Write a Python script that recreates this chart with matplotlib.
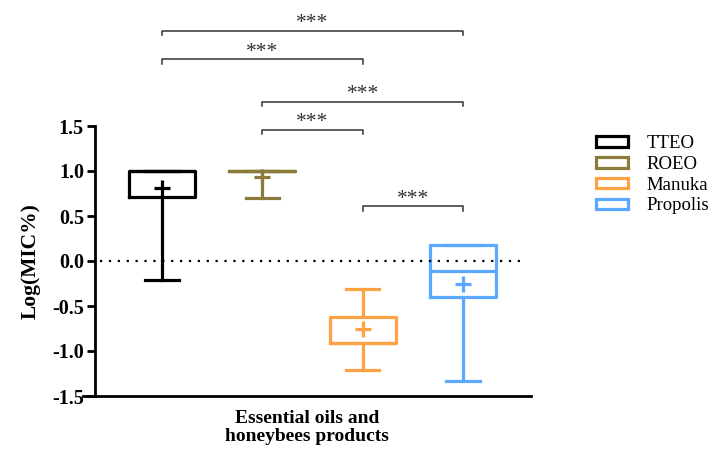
import matplotlib.pyplot as plt
from matplotlib.patches import Patch

plt.rcParams['font.family'] = ['Liberation Serif', 'DejaVu Serif']

groups = ["TTEO", "ROEO", "Manuka", "Propolis"]
colors = ["#000000", "#8a7b3c", "#ffa244", "#5aa8ff"]
whislo = [-0.21, 0.70, -1.21, -1.33]
q1 = [0.71, 1.00, -0.91, -0.40]
med = [1.00, 1.00, -0.91, -0.11]
q3 = [1.00, 1.00, -0.62, 0.18]
whishi = [1.00, 1.00, -0.31, 0.18]
means = [0.81, 0.93, -0.75, -0.25]

# significance pairs (group index a, group index b, bracket height)
pairs = [(0, 3, 2.56), (0, 2, 2.24), (1, 3, 1.77), (1, 2, 1.46), (2, 3, 0.61)]
stars = ["***", "***", "***", "***", "***"]

fig = plt.figure(figsize=(7.17, 4.51), dpi=100)
ax = fig.add_axes([83 / 717, 55 / 451, 448 / 717, 270 / 451])

pos = [1, 2, 3, 4]
for i in range(4):
    st = dict(whislo=whislo[i], q1=q1[i], med=med[i], q3=q3[i], whishi=whishi[i],
              mean=means[i], fliers=[])
    c = colors[i]
    ax.bxp([st], positions=[pos[i]], widths=0.66, showmeans=True, showfliers=False,
           patch_artist=False,
           boxprops=dict(color=c, linewidth=2.3),
           whiskerprops=dict(color=c, linewidth=2.3),
           capprops=dict(color=c, linewidth=2.3),
           medianprops=dict(color=c, linewidth=2.3),
           meanprops=dict(marker='+', markeredgecolor=c, markersize=11, markeredgewidth=2.3),
           capwidths=0.33)

ax.plot([0.38, 4.59], [0, 0], color='black', linestyle=(0, (1, 3)), linewidth=1.6)

for (a, b, h), s in zip(pairs, stars):
    xa, xb = pos[a], pos[b]
    ax.plot([xa, xa, xb, xb], [h - 0.05, h, h, h - 0.05], color='#333333',
            linewidth=1.1, clip_on=False)
    ax.text((xa + xb) / 2, h - 0.03, s, ha='center', va='bottom', fontsize=15.5,
            color='#333333', clip_on=False)

ax.set_xlim(0.212, 4.678)
ax.set_ylim(-1.5, 1.5)
ax.set_yticks([1.5, 1.0, 0.5, 0.0, -0.5, -1.0, -1.5])
ax.set_yticklabels(["1.5", "1.0", "0.5", "0.0", "-0.5", "-1.0", "-1.5"])
ax.set_xticks([])
ax.spines['top'].set_visible(False)
ax.spines['right'].set_visible(False)
ax.spines['left'].set_position(('data', 0.332))
ax.spines['left'].set_linewidth(2)
ax.spines['bottom'].set_linewidth(2)
ax.tick_params(axis='y', direction='out', length=6, width=2, pad=2, labelsize=14.5)
for lab in ax.get_yticklabels():
    lab.set_fontweight('bold')
ax.set_ylabel("Log(MIC%)", fontweight='bold', fontsize=15.5, labelpad=8)
ax.set_xlabel("Essential oils and\nhoneybees products", fontweight='bold', fontsize=14,
              labelpad=10, linespacing=1.1)

handles = [Patch(facecolor='white', edgecolor=c, linewidth=2.3) for c in colors]
fig.legend(handles, groups, loc='upper left', bbox_to_anchor=(585 / 717, 1 - 124 / 451),
           frameon=False, fontsize=13.5, handlelength=1.7, handleheight=0.5,
           labelspacing=0.2, handletextpad=1.0, borderaxespad=0.2)

fig.savefig("out.png", dpi=100)
